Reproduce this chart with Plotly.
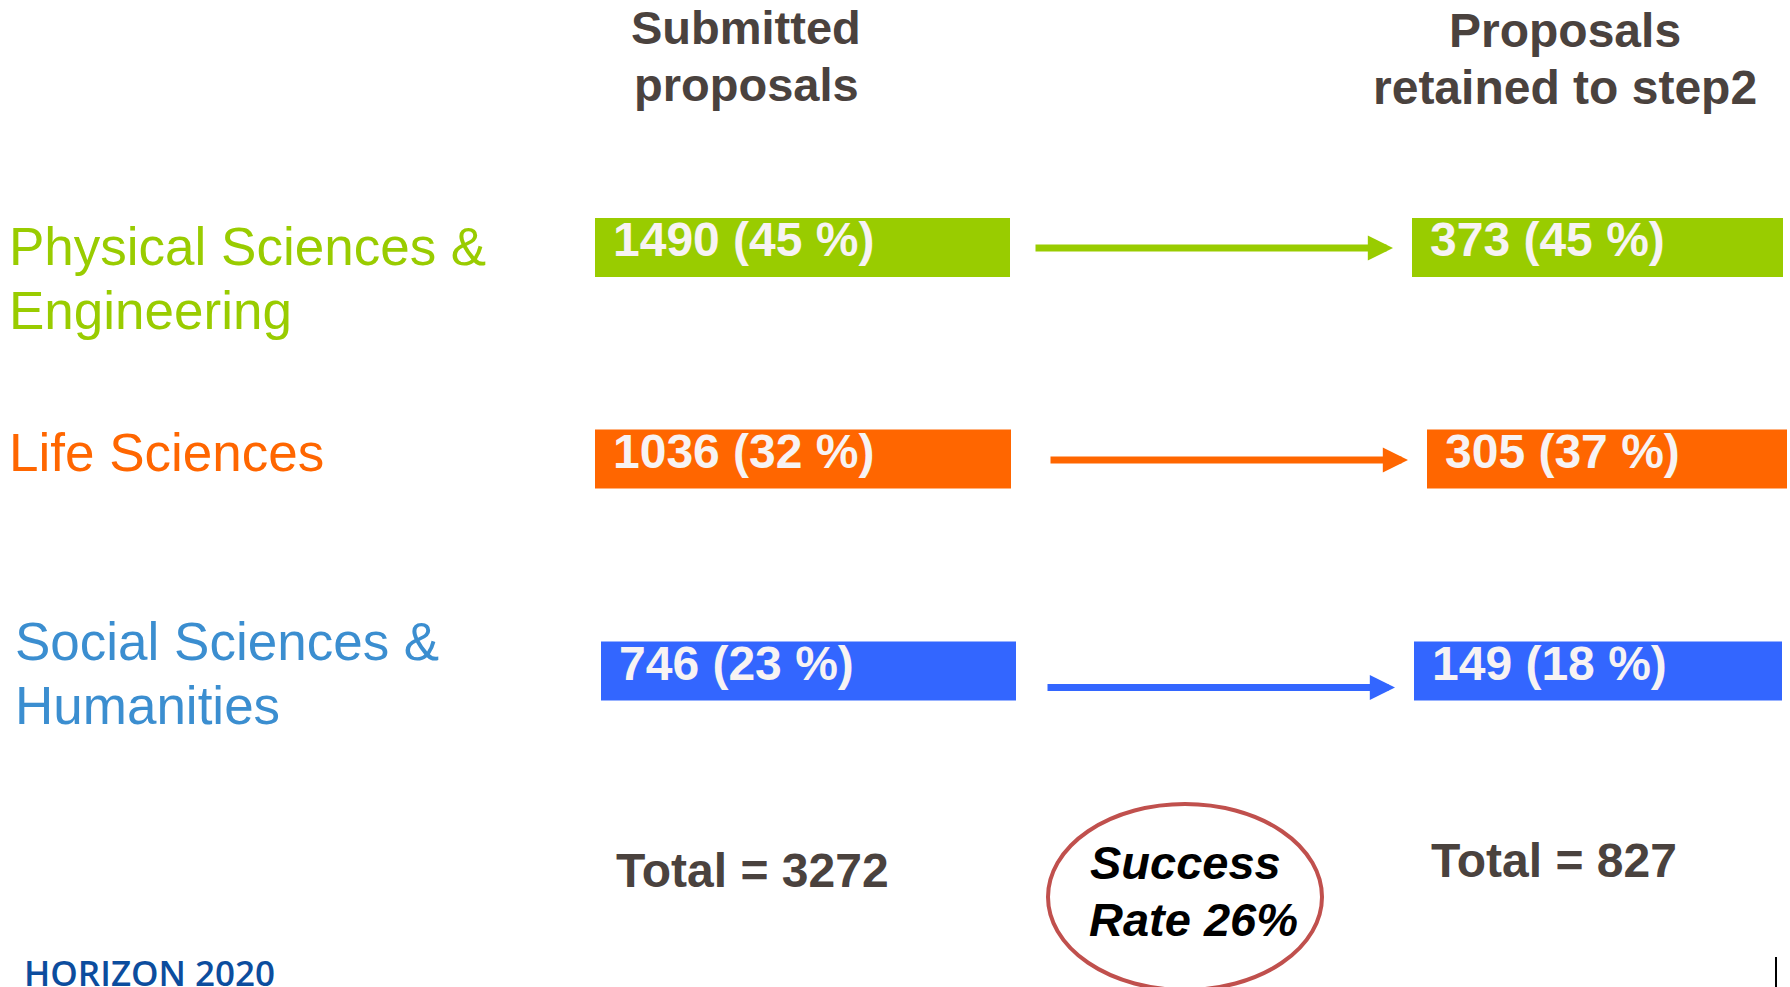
import plotly.graph_objects as go

# ---------------- data ----------------
categories = ["Physical Sciences &\nEngineering", "Life Sciences", "Social Sciences &\nHumanities"]
submitted = [1490, 1036, 746]
submitted_pct = [45, 32, 23]
retained = [373, 305, 149]
retained_pct = [45, 37, 18]
total_submitted = 3272
total_retained = 827
success_rate = 26
stage_titles = ["Submitted\nproposals", "Proposals\nretained to step2"]
brand = "HORIZON 2020"

# ---------------- styles / layout ----------------
label_colors = ["#99CC00", "#FF6600", "#3B8ED0"]
bar_colors = ["#99CC00", "#FF6600", "#3366FF"]
arrow_colors = ["#99CC00", "#FF6600", "#3366FF"]
dark = "#4A423E"
FONT = "Liberation Sans, Arial, sans-serif"
W, H = 1790, 987

row_y = [247.5, 459, 671]
bar_h = 59
left_x0 = [595, 595, 601]
left_x1 = [1010, 1011, 1016]
right_x0 = [1412, 1427, 1414]
right_x1 = [1783, 1787, 1782]
arrow_tail = [1034, 1049, 1046]
arrow_tip = [1393, 1408, 1395]
arrow_y = [248, 460, 687.5]
cat_x = [7, 7, 13]
cat_line_y = [[246, 310], [452], [641, 705]]
title_x = [746, 1565]
title_line_y = [[27, 84], [30, 87]]

fig = go.Figure()

# bars (same-size blocks), drawn through the axes
fig.add_trace(go.Bar(
    orientation="h", y=row_y,
    x=[b - a for a, b in zip(left_x0, left_x1)], base=left_x0,
    width=bar_h, marker=dict(color=bar_colors, line=dict(width=0)),
    hoverinfo="skip", showlegend=False,
))
fig.add_trace(go.Bar(
    orientation="h", y=row_y,
    x=[b - a for a, b in zip(right_x0, right_x1)], base=right_x0,
    width=bar_h, marker=dict(color=bar_colors, line=dict(width=0)),
    hoverinfo="skip", showlegend=False,
))

ann = []
bar_font = dict(family=FONT, size=48, color="#F7F3F3", weight="bold")
for i in range(3):
    ann.append(dict(x=left_x0[i] + 16, y=row_y[i] - 8, xanchor="left", yanchor="middle",
                    text=f"{submitted[i]} ({submitted_pct[i]} %)", font=bar_font, showarrow=False))
    ann.append(dict(x=right_x0[i] + 16, y=row_y[i] - 8, xanchor="left", yanchor="middle",
                    text=f"{retained[i]} ({retained_pct[i]} %)", font=bar_font, showarrow=False))
    # category labels
    for line, ly in zip(categories[i].split("\n"), cat_line_y[i]):
        ann.append(dict(x=cat_x[i], y=ly, xanchor="left", yanchor="middle", text=line,
                        font=dict(family=FONT, size=53, color=label_colors[i]), showarrow=False))
    # arrows
    ann.append(dict(x=arrow_tip[i], y=arrow_y[i], ax=arrow_tail[i], ay=arrow_y[i],
                    xref="x", yref="y", axref="x", ayref="y", text="", showarrow=True,
                    arrowhead=2, arrowwidth=7, arrowsize=0.72, arrowcolor=arrow_colors[i]))

# column titles
for t, tx, tys, fs in zip(stage_titles, title_x, title_line_y, [47, 48]):
    for line, ly in zip(t.split("\n"), tys):
        ann.append(dict(x=tx, y=ly, xanchor="center", yanchor="middle", text=line,
                        font=dict(family=FONT, size=fs, color=dark, weight="bold"), showarrow=False))

# totals
ann.append(dict(x=752, y=870, xanchor="center", yanchor="middle", text=f"Total = {total_submitted}",
                font=dict(family=FONT, size=48, color=dark, weight="bold"), showarrow=False))
ann.append(dict(x=1554, y=860, xanchor="center", yanchor="middle", text=f"Total = {total_retained}",
                font=dict(family=FONT, size=48, color=dark, weight="bold"), showarrow=False))

# success rate
ann.append(dict(x=1185, y=862, xanchor="center", yanchor="middle", text="Success",
                font=dict(family=FONT, size=47, color="#000000", weight="bold", style="italic"), showarrow=False))
ann.append(dict(x=1193, y=919, xanchor="center", yanchor="middle", text=f"Rate {success_rate}%",
                font=dict(family=FONT, size=47, color="#000000", weight="bold", style="italic"), showarrow=False))

# brand
ann.append(dict(x=22, y=972, xanchor="left", yanchor="middle", text=brand,
                font=dict(family="Open Sans, sans-serif", size=35, color="#0C4D9E", weight=600), showarrow=False))

shapes = [
    dict(type="circle", xref="x", yref="y", x0=1048, x1=1322, y0=804, y1=990,
         line=dict(color="#C0504D", width=4), fillcolor="rgba(0,0,0,0)"),
    dict(type="line", xref="x", yref="y", x0=1776, x1=1776, y0=957, y1=987,
         line=dict(color="#000000", width=2)),
]

fig.update_layout(
    width=W, height=H, margin=dict(l=0, r=0, t=0, b=0),
    paper_bgcolor="white", plot_bgcolor="white",
    barmode="overlay", showlegend=False,
    xaxis=dict(range=[0, W], visible=False, fixedrange=True),
    yaxis=dict(range=[H, 0], visible=False, fixedrange=True),
    annotations=ann, shapes=shapes,
)

fig.write_html(
    "out.html",
    config={"displayModeBar": False},
    post_script="document.body.style.margin='0';document.body.style.overflow='hidden';",
)
